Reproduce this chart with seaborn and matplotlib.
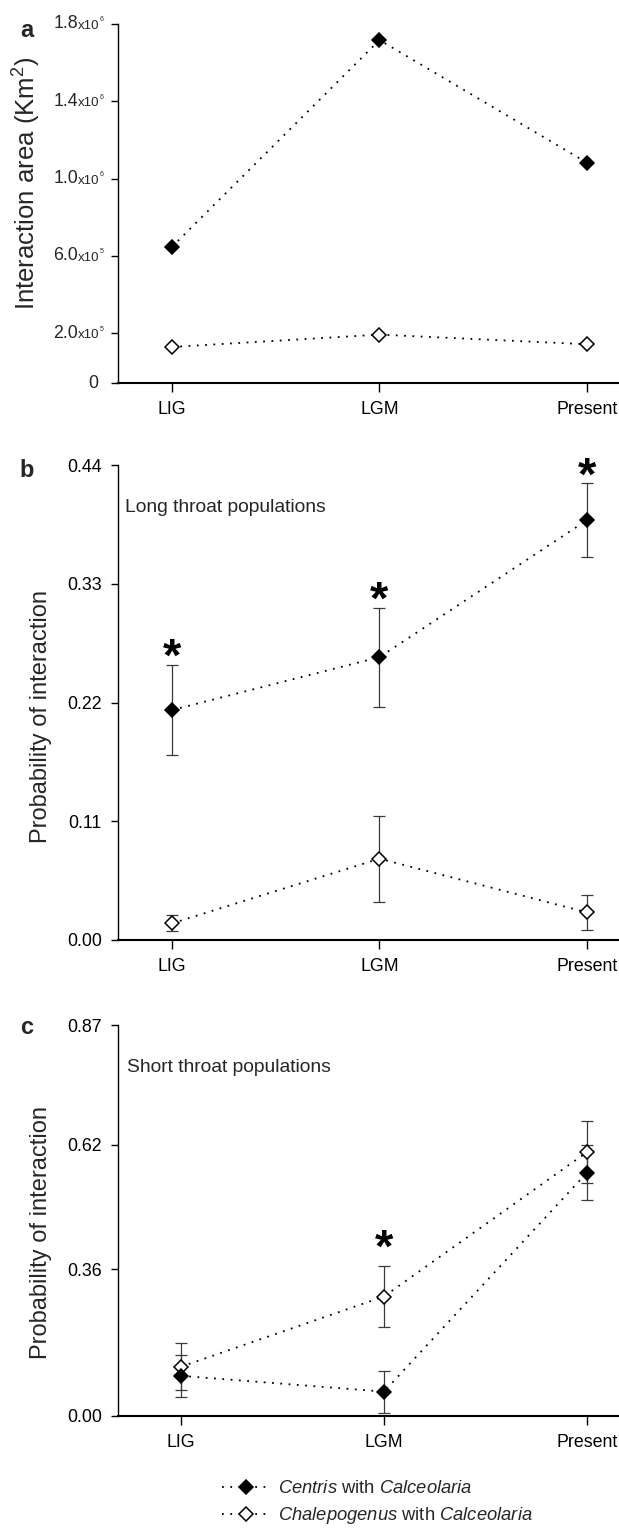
import numpy as np
import pandas as pd
import matplotlib
matplotlib.use("Agg")
import matplotlib.pyplot as plt
import seaborn as sns
from matplotlib.lines import Line2D

# ---------------- data ----------------
periods = ["LIG", "LGM", "Present"]

# panel a : interaction area, in units of 1e5 km2 (read against the tick marks)
area_centris = [6.47, 17.17, 10.82]
area_chalep = [1.29, 1.93, 1.43]
area_ticks = [-0.574, 2, 6, 10, 14, 18]
area_tick_main = ["0", "2.0", "6.0", "1.0", "1.4", "1.8"]
area_tick_exp = ["", "5", "5", "6", "6", "6"]

# panel b : long throat populations
long_centris = [0.213, 0.262, 0.389]
long_centris_err = [0.042, 0.046, 0.034]
long_chalep = [0.0154, 0.0753, 0.0256]
long_chalep_err = [0.0075, 0.040, 0.016]
long_sig = [True, True, True]
long_ticks = [0.0, 0.11, 0.22, 0.33, 0.44]
long_ticklabels = ["0.00", "0.11", "0.22", "0.33", "0.44"]

# panel c : short throat populations
short_centris = [0.137, 0.104, 0.562]
short_centris_err = [0.044, 0.044, 0.058]
short_chalep = [0.156, 0.303, 0.605]
short_chalep_err = [0.049, 0.064, 0.065]
short_sig = [False, True, False]
short_ticks = [0.053, 0.36, 0.62, 0.87]
short_ticklabels = ["0.00", "0.36", "0.62", "0.87"]

series_labels = [r"$\it{Centris}$ with $\it{Calceolaria}$",
                 r"$\it{Chalepogenus}$ with $\it{Calceolaria}$"]

# ---------------- style ----------------
sns.set_theme(style="ticks")
plt.rcParams["font.family"] = ["Liberation Sans", "DejaVu Sans"]
plt.rcParams["mathtext.fontset"] = "custom"
plt.rcParams["mathtext.rm"] = "Liberation Sans"
plt.rcParams["mathtext.it"] = "Liberation Sans:italic"
plt.rcParams["mathtext.bf"] = "Liberation Sans:bold"

W, H = 619, 1529
fig = plt.figure(figsize=(W / 100, H / 100), dpi=100)

DOT = (0, (1, 3.6))
LW = 1.3
MS = 7.5
TICK_FS = 12.8
LABEL_FS = 17


def px_axes(top, bottom, left=118, right=619):
    return fig.add_axes([left / W, 1 - bottom / H, (right - left) / W, (bottom - top) / H])


def draw_series(ax, y, err, filled):
    xpos = np.arange(len(periods))
    df = pd.DataFrame({"x": xpos, "y": y})
    if err is not None:
        ax.errorbar(xpos, y, yerr=err, fmt="none", ecolor="#3a3a3a",
                    elinewidth=0.9, capsize=4.3, capthick=0.9, zorder=2)
    sns.lineplot(data=df, x="x", y="y", ax=ax, color="black", lw=LW,
                 linestyle=DOT, marker="D", markersize=MS,
                 markerfacecolor="black" if filled else "white",
                 markeredgecolor="black", markeredgewidth=1.1,
                 errorbar=None, zorder=3)


def style_axes(ax, xlim, ylim):
    ax.set_xlim(*xlim)
    ax.set_ylim(*ylim)
    ax.set_xticks(range(len(periods)))
    ax.set_xticklabels(periods, fontsize=TICK_FS)
    ax.set_xlabel("")
    for s in ["top", "right"]:
        ax.spines[s].set_visible(False)
    ax.spines["left"].set_linewidth(1.0)
    ax.spines["bottom"].set_linewidth(1.5)
    ax.spines["left"].set_color("black")
    ax.spines["bottom"].set_color("black")
    ax.tick_params(axis="x", direction="out", length=6.7, width=1.0, pad=6, colors="black")
    ax.tick_params(axis="y", direction="out", length=4.7, width=1.0, pad=7, colors="black",
                   labelsize=TICK_FS)
    ax.set_facecolor("white")


def add_stars(ax, sig, tops, off_px, fs=34):
    for i, s in enumerate(sig):
        if s:
            ax.annotate("*", xy=(i, tops[i]), xytext=(0, off_px * 0.72 - 0.55 * fs),
                        textcoords="offset points", ha="center", va="baseline",
                        fontsize=fs, fontweight="bold", color="black")


# ---------------- panel a ----------------
axa = px_axes(24, 383)
draw_series(axa, area_centris, None, True)
draw_series(axa, area_chalep, None, False)
style_axes(axa, (-0.260, 2.154), (area_ticks[0], 18))
axa.set_yticks(area_ticks)
axa.set_yticklabels([""] * len(area_ticks))
ytr = axa.get_yaxis_transform()
for v, m, e in zip(area_ticks, area_tick_main, area_tick_exp):
    if e == "":
        axa.annotate(m, xy=(0, v), xycoords=ytr, xytext=(-20 * 0.72, 0),
                     textcoords="offset points", ha="right", va="center", fontsize=TICK_FS)
    else:
        axa.annotate(m, xy=(0, v), xycoords=ytr, xytext=(-40 * 0.72, 0),
                     textcoords="offset points", ha="right", va="center", fontsize=TICK_FS)
        axa.annotate("x10", xy=(0, v), xycoords=ytr, xytext=(-40 * 0.72, -1.5),
                     textcoords="offset points", ha="left", va="center", fontsize=9.5)
        axa.annotate(e, xy=(0, v), xycoords=ytr, xytext=(-18 * 0.72, 3.0),
                     textcoords="offset points", ha="left", va="center", fontsize=5)
axa.set_ylabel("Interaction area (Km$^2$)", fontsize=18.5)
axa.yaxis.set_label_coords(-0.150, 0.556)

# ---------------- panel b ----------------
axb = px_axes(465, 940)
draw_series(axb, long_chalep, long_chalep_err, False)
draw_series(axb, long_centris, long_centris_err, True)
style_axes(axb, (-0.260, 2.154), (0, 0.44))
axb.set_yticks(long_ticks)
axb.set_yticklabels(long_ticklabels)
axb.set_ylabel("Probability of interaction", fontsize=LABEL_FS)
axb.yaxis.set_label_coords(-0.132, 0.47)
tops_b = [max(a + b, c + d) for a, b, c, d in
          zip(long_centris, long_centris_err, long_chalep, long_chalep_err)]
add_stars(axb, long_sig, tops_b, 20)
fig.text(125 / W, 1 - 508 / H, "Long throat populations", fontsize=13.9,
         ha="left", va="center")

# ---------------- panel c ----------------
axc = px_axes(1025, 1416)
draw_series(axc, short_chalep, short_chalep_err, False)
draw_series(axc, short_centris, short_centris_err, True)
style_axes(axc, (-0.310, 2.158), (short_ticks[0], 0.871))
axc.set_yticks(short_ticks)
axc.set_yticklabels(short_ticklabels)
axc.set_ylabel("Probability of interaction", fontsize=LABEL_FS)
axc.yaxis.set_label_coords(-0.132, 0.47)
tops_c = [max(a + b, c + d) for a, b, c, d in
          zip(short_centris, short_centris_err, short_chalep, short_chalep_err)]
add_stars(axc, short_sig, tops_c, 30)
fig.text(127 / W, 1 - 1067 / H, "Short throat populations", fontsize=13.9,
         ha="left", va="center")

# ---------------- panel letters ----------------
for letter, yb in zip(["a", "b", "c"], [37, 477, 1034]):
    fig.text(27 / W, 1 - yb / H, letter, fontsize=17, fontweight="bold",
             ha="center", va="baseline")

# ---------------- legend ----------------
handles = [
    Line2D([], [], color="black", lw=LW, ls=DOT, marker="D", ms=MS,
           mfc="black", mec="black", mew=1.1),
    Line2D([], [], color="black", lw=LW, ls=DOT, marker="D", ms=MS,
           mfc="white", mec="black", mew=1.1),
]
fig.legend(handles, series_labels, loc="upper left",
           bbox_to_anchor=(222 / W, 1 - 1480 / H), frameon=False, fontsize=13.2,
           handlelength=2.6, handletextpad=0.45, labelspacing=0.45,
           borderpad=0, borderaxespad=0, numpoints=1)

fig.savefig("out.png", dpi=100, facecolor="white")
